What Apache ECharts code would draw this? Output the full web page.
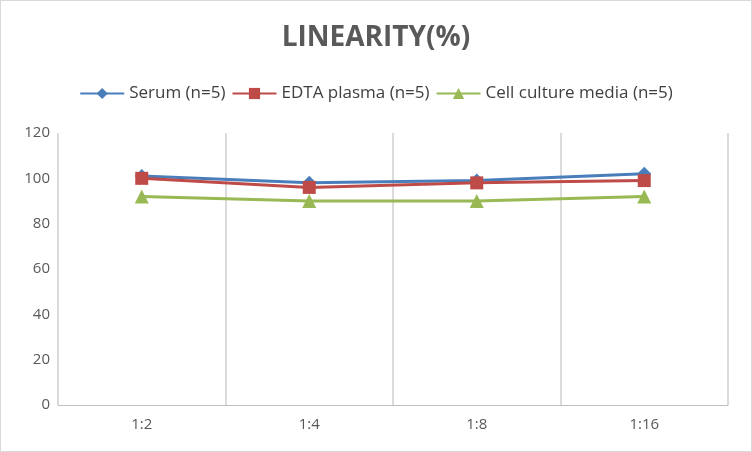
<!DOCTYPE html><html><head><meta charset="utf-8"><script src="https://cdn.jsdelivr.net/npm/echarts@6/dist/echarts.min.js"></script></head><body style="margin:0"><div id="c" style="width:750px;height:450px;border:1px solid #d9d9d9"></div><script>
const categories=['1:2','1:4','1:8','1:16'];
const serum=[101,98,99,102];
const edta=[100,96,98,99];
const cell=[92,90,90,92];
const c=echarts.init(document.getElementById('c'));
const ff='"Open Sans", "DejaVu Sans", sans-serif';
const mk=(name,data,color,sym,size)=>({name,type:'line',data,symbol:sym,symbolSize:size,lineStyle:{width:3,color},itemStyle:{color},animation:false});
c.setOption({
title:{text:'LINEARITY(%)',left:'center',top:18,textStyle:{fontSize:28,fontWeight:'bold',color:'#595959',fontFamily:ff,letterSpacing:3}},
legend:{top:79,left:'center',itemWidth:44,itemHeight:14,itemGap:6,textStyle:{fontSize:17,color:'#404040',fontFamily:ff},data:['Serum (n=5)','EDTA plasma (n=5)','Cell culture media (n=5)']},
grid:{left:57,right:23,top:132,bottom:46},
xAxis:{type:'category',data:categories,axisTick:{show:false},axisLine:{lineStyle:{color:'#bfbfbf'}},axisLabel:{fontSize:15,color:'#595959',fontFamily:ff,margin:12},splitLine:{show:true,lineStyle:{color:'#cfcfcf',width:1.5}}},
yAxis:{type:'value',min:0,max:120,interval:20,axisLabel:{fontSize:15,color:'#595959',fontFamily:ff},splitLine:{show:false},axisLine:{show:false}},
series:[mk('Serum (n=5)',serum,'#4a7ebb','diamond',14),mk('EDTA plasma (n=5)',edta,'#be4b48','rect',13),mk('Cell culture media (n=5)',cell,'#98b954','triangle',14)]
});
</script></body></html>
